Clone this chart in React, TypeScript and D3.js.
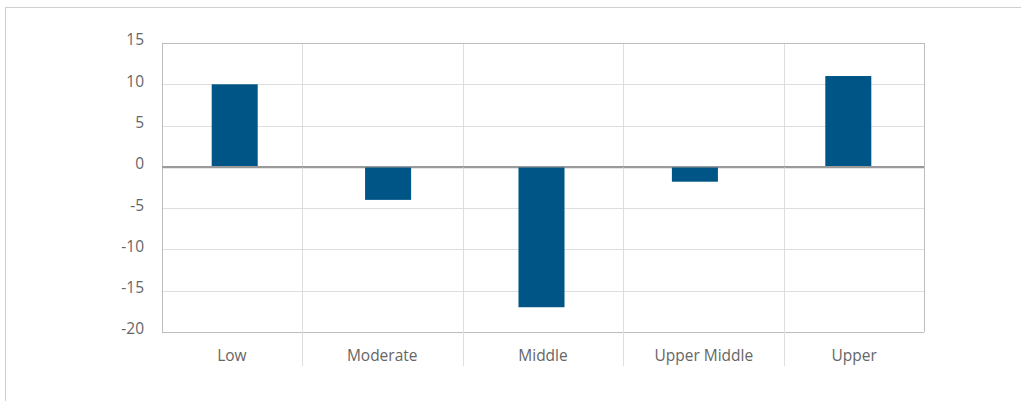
import React from "react";
import { scaleBand, scaleLinear } from "d3";

const categories = ["Low", "Moderate", "Middle", "Upper Middle", "Upper"];
const values = [10, -4, -17, -1.8, 11];
const yTicks = [15, 10, 5, 0, -5, -10, -15, -20];

const W = 1021;
const H = 401;
const plot = { left: 162, right: 924, top: 43, bottom: 332 };

const App = () => {
  const y = scaleLinear().domain([-20, 15]).range([plot.bottom, plot.top]);

  // bars sit on a slightly wider band than the plot
  const xBar = scaleBand<string>()
    .domain(categories)
    .range([158, 925])
    .paddingInner(0.7)
    .paddingOuter(0.35);

  // grid separators: bands overflow the plot and get clipped at its edges
  const xGrid = scaleBand<string>().domain(categories).range([141, 945]);

  const clampX = (v: number) => Math.max(plot.left, Math.min(plot.right, v));

  return (
    <svg
      width={W}
      height={H}
      style={{ position: "absolute", left: 0, top: 0 }}
      fontFamily="'Open Sans', sans-serif"
    >
      <rect width={W} height={H} fill="#fff" />
      {/* outer frame */}
      <line x1={5} x2={W} y1={7.5} y2={7.5} stroke="#cfcfcf" />
      <line x1={5.5} x2={5.5} y1={7} y2={H} stroke="#cfcfcf" />

      {/* horizontal grid */}
      {yTicks.map((t) => (
        <g key={t}>
          <line
            x1={plot.left}
            x2={plot.right}
            y1={Math.round(y(t)) + 0.5}
            y2={Math.round(y(t)) + 0.5}
            stroke={t === 0 ? "#9a9a9a" : t === -20 ? "#bdbdbd" : "#dedede"}
            strokeWidth={t === 0 ? 1.5 : 1}
          />
          <text
            x={144}
            y={y(t) - 3}
            dy="0.35em"
            textAnchor="end"
            fontSize={15.5}
            fill="#666"
          >
            {t}
          </text>
        </g>
      ))}

      {/* vertical separators + labels */}
      {categories.map((c, i) => {
        const x0 = clampX(xGrid(c)!);
        const x1 = clampX(xGrid(c)! + xGrid.bandwidth());
        return (
          <g key={c}>
            {i > 0 && (
              <line
                x1={Math.round(x0) + 0.5}
                x2={Math.round(x0) + 0.5}
                y1={plot.top}
                y2={366}
                stroke="#dedede"
              />
            )}
            <text
              x={(x0 + x1) / 2}
              y={361}
              textAnchor="middle"
              fontSize={15.5}
              fill="#666"
            >
              {c}
            </text>
          </g>
        );
      })}

      {/* plot frame */}
      <line x1={plot.left + 0.5} x2={plot.left + 0.5} y1={plot.top} y2={plot.bottom} stroke="#bdbdbd" />
      <line x1={plot.right + 0.5} x2={plot.right + 0.5} y1={plot.top} y2={plot.bottom} stroke="#bdbdbd" />
      <line x1={plot.left} x2={plot.right} y1={plot.top + 0.5} y2={plot.top + 0.5} stroke="#bdbdbd" />

      {/* bars */}
      {categories.map((c, i) => (
        <rect
          key={c}
          x={xBar(c)}
          width={xBar.bandwidth()}
          y={y(Math.max(0, values[i]))}
          height={Math.abs(y(values[i]) - y(0))}
          fill="#005587"
        />
      ))}

      {/* zero line on top */}
      <line x1={plot.left} x2={plot.right} y1={y(0)} y2={y(0)} stroke="#9a9a9a" strokeWidth={1.5} />
    </svg>
  );
};

export default App;
